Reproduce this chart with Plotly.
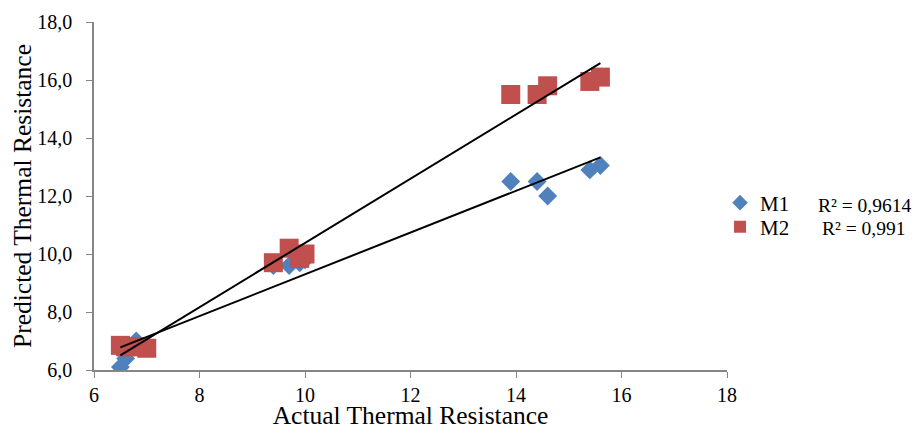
import numpy as np
import plotly.graph_objects as go

# Data
m1_x = [6.5, 6.6, 6.8, 7.0, 9.4, 9.7, 9.9, 10.0, 13.9, 14.4, 14.6, 15.4, 15.6]
m1_y = [6.1, 6.4, 7.0, 6.8, 9.6, 9.6, 9.7, 9.8, 12.5, 12.5, 12.0, 12.9, 13.05]
m2_x = [6.5, 6.6, 6.8, 7.0, 9.4, 9.7, 9.9, 10.0, 13.9, 14.4, 14.6, 15.4, 15.6]
m2_y = [6.85, 6.8, 6.8, 6.75, 9.7, 10.2, 9.85, 10.0, 15.5, 15.5, 15.8, 15.95, 16.1]
r2_labels = ["R² = 0,9614", "R² = 0,991"]
x_ticks = [6, 8, 10, 12, 14, 16, 18]
y_ticks = [6, 8, 10, 12, 14, 16, 18]
y_ticktext = ["6,0", "8,0", "10,0", "12,0", "14,0", "16,0", "18,0"]

FONT = "Liberation Serif"
BLUE = "#4F81BD"
RED = "#C0504D"

fig = go.Figure()

fig.add_trace(go.Scatter(x=m1_x, y=m1_y, mode="markers", name="M1", legend="legend",
                         marker=dict(symbol="diamond", size=14.5, color=BLUE)))
fig.add_trace(go.Scatter(x=m2_x, y=m2_y, mode="markers", name="M2", legend="legend2",
                         marker=dict(symbol="square", size=19, color=RED)))

for xs, ys in [(m1_x, m1_y), (m2_x, m2_y)]:
    a, b = np.polyfit(xs, ys, 1)
    lx = np.array([min(xs), max(xs)])
    fig.add_trace(go.Scatter(x=lx, y=a * lx + b, mode="lines", showlegend=False,
                             line=dict(color="black", width=2), hoverinfo="skip"))

fig.add_annotation(x=1.1406, y=0.474, xref="paper", yref="paper", text=r2_labels[0],
                   showarrow=False, xanchor="left", yanchor="middle",
                   font=dict(family=FONT, size=19.5, color="black"))
fig.add_annotation(x=1.147, y=0.408, xref="paper", yref="paper", text=r2_labels[1],
                   showarrow=False, xanchor="left", yanchor="middle",
                   font=dict(family=FONT, size=19.5, color="black"))

leg_common = dict(xanchor="left", yanchor="middle", font=dict(family=FONT, size=21, color="black"),
                  itemsizing="constant", bgcolor="rgba(0,0,0,0)", borderwidth=0)

fig.update_layout(
    width=913, height=422,
    margin=dict(l=86, r=194, t=14, b=60, autoexpand=False),
    paper_bgcolor="white", plot_bgcolor="white",
    font=dict(family=FONT, size=20, color="black"),
    legend=dict(x=0.989, y=(370 - 203) / 348, **leg_common),
    legend2=dict(x=0.989, y=(370 - 227) / 348, **leg_common),
    xaxis=dict(range=[6, 18], tickvals=x_ticks, showgrid=False, zeroline=False,
               showline=True, linecolor="#868686", linewidth=1.5,
               ticks="outside", ticklen=6, tickcolor="#868686", automargin=False,
               tickfont=dict(family=FONT, size=20), ticklabelstandoff=0,
               title=dict(text="Actual Thermal Resistance", font=dict(family=FONT, size=25.5),
                          standoff=3)),
    yaxis=dict(range=[6, 18], tickvals=y_ticks, ticktext=y_ticktext, showgrid=False,
               zeroline=False, showline=True, linecolor="#868686", linewidth=1.5,
               ticks="outside", ticklen=6, tickcolor="#868686", automargin=False,
               tickfont=dict(family=FONT, size=20), ticklabelstandoff=10,
               title=dict(text="Predicted Thermal Resistance", font=dict(family=FONT, size=25.5),
                          standoff=0)),
)

fig.write_html("out.html")
